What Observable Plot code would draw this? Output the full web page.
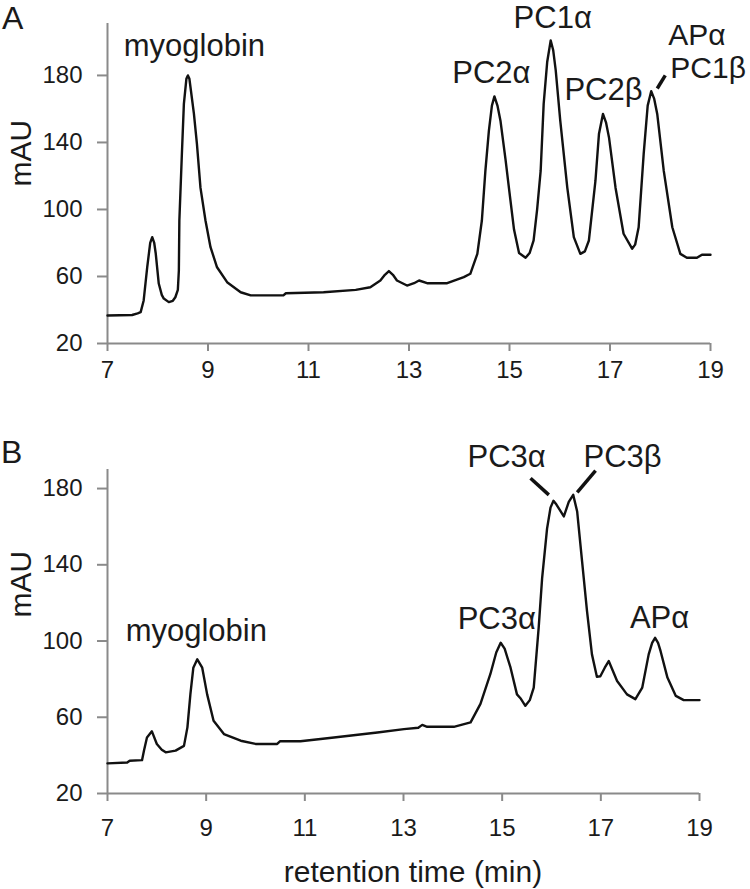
<!DOCTYPE html>
<html>
<head>
<meta charset="utf-8">
<script src="https://cdn.jsdelivr.net/npm/d3@7"></script>
<script src="https://cdn.jsdelivr.net/npm/@observablehq/plot@0.6"></script>
<style>
  html, body { margin: 0; padding: 0; background: #fff; }
  #wrap { position: relative; width: 750px; height: 889px; font-family: "Liberation Sans", Arial, sans-serif; color: #1a1a1a; }
  .panel-letter { position: absolute; font-size: 32px; line-height: 34px; }
  #xtitle { position: absolute; font-size: 30px; line-height: 30px; white-space: nowrap; transform: translateX(-50%); }
  svg { display: block; }
</style>
</head>
<body>
<div id="wrap">
  <div id="panelA"></div>
  <div id="panelB"></div>
  <div class="panel-letter" style="left:2px; top:1px;">A</div>
  <div class="panel-letter" style="left:1px; top:435px;">B</div>
  <div id="xtitle" style="left:413px; top:857px;">retention time (min)</div>
</div>
<script>
// ---------- data ----------
const xTicks = [7, 9, 11, 13, 15, 17, 19];
const yTicks = [20, 60, 100, 140, 180];

// Panel A chromatogram (retention time in min, absorbance in mAU)
const timeA = [7.00, 7.49, 7.60, 7.66, 7.72, 7.79, 7.85, 7.89, 7.93, 7.96, 8.02, 8.08, 8.12, 8.22, 8.30, 8.35, 8.40, 8.42, 8.43, 8.48, 8.52, 8.57, 8.60, 8.63, 8.66, 8.72, 8.78, 8.85, 8.95, 9.05, 9.18, 9.38, 9.65, 9.85, 10.50, 10.55, 11.30, 11.94, 12.23, 12.43, 12.52, 12.60, 12.68, 12.76, 12.96, 13.10, 13.20, 13.36, 13.76, 14.09, 14.22, 14.36, 14.45, 14.52, 14.59, 14.65, 14.70, 14.76, 14.82, 14.92, 15.00, 15.09, 15.19, 15.32, 15.40, 15.48, 15.55, 15.62, 15.68, 15.75, 15.82, 15.87, 15.92, 16.01, 16.15, 16.28, 16.41, 16.50, 16.58, 16.71, 16.78, 16.86, 16.92, 16.98, 17.11, 17.27, 17.44, 17.50, 17.57, 17.67, 17.75, 17.82, 17.88, 17.94, 18.07, 18.24, 18.40, 18.53, 18.73, 18.83, 19.00];
const signalA = [36.7, 37.0, 38.0, 38.7, 45.7, 65.5, 80.0, 83.5, 80.0, 73.7, 55.8, 49.0, 46.8, 44.7, 45.5, 47.6, 52.0, 63.6, 93.4, 133, 163, 178, 180, 178, 171, 157, 139, 113, 93.4, 77.5, 65.5, 56.6, 50.6, 48.7, 48.7, 50.0, 50.6, 52.0, 53.6, 57.6, 61.0, 63.2, 61.0, 57.6, 54.6, 56.0, 57.6, 56.0, 56.0, 59.6, 61.6, 73.5, 93.4, 123, 147, 162, 167.5, 162, 153, 130, 110, 88, 74, 71.2, 74, 81.5, 100, 123, 163, 188, 200.9, 195, 183, 153, 113, 83.5, 73.5, 75, 81.5, 117, 145, 157, 152, 143, 113, 85.5, 76.6, 79, 89.4, 133, 162, 170.6, 166, 157, 123, 89.4, 73.5, 71.2, 71.2, 73, 73];

// Panel B chromatogram
const timeB = [7.00, 7.40, 7.45, 7.70, 7.74, 7.80, 7.90, 8.00, 8.10, 8.18, 8.38, 8.55, 8.62, 8.68, 8.74, 8.82, 8.92, 9.02, 9.15, 9.36, 9.70, 10.00, 10.44, 10.50, 10.91, 11.32, 11.59, 12.47, 13.01, 13.30, 13.38, 13.48, 14.02, 14.36, 14.56, 14.76, 14.88, 14.97, 15.05, 15.17, 15.30, 15.37, 15.47, 15.56, 15.64, 15.74, 15.81, 15.91, 15.98, 16.04, 16.10, 16.25, 16.35, 16.44, 16.52, 16.62, 16.72, 16.82, 16.92, 16.99, 17.08, 17.16, 17.33, 17.53, 17.70, 17.84, 17.97, 18.04, 18.10, 18.16, 18.21, 18.35, 18.52, 18.68, 19.00];
const signalB = [35.8, 36.3, 37.2, 37.5, 42.5, 49.4, 52.6, 46.0, 43.0, 41.6, 42.5, 45.0, 54.7, 72.0, 86.0, 90.4, 86.0, 72.0, 58.2, 51.2, 47.7, 46.0, 46.0, 47.5, 47.4, 48.6, 49.4, 52.0, 53.8, 54.5, 56.0, 55.0, 55.0, 57.3, 67.0, 82.6, 94.0, 99.1, 96.0, 86.0, 72.0, 70.0, 66.0, 69.0, 75.6, 107, 133, 159, 170, 173.6, 171.6, 165.4, 173, 176.7, 168, 141.8, 115.7, 93.0, 81.2, 81.5, 86.0, 89.5, 79.0, 72.0, 69.5, 75.6, 93.0, 99.0, 101.7, 99.0, 94.8, 80.8, 71.2, 69.0, 69.0];

// Peak labels (name, time, mAU of text baseline, anchor)
const peakNamesA = ["myoglobin", "PC2\u03b1", "PC1\u03b1", "PC2\u03b2", "AP\u03b1", "PC1\u03b2"];
const peakTimeA = [8.73, 14.64, 15.86, 16.87, 18.16, 18.20];
const peakLevelA = [191.9, 175.2, 208.1, 165.1, 197.9, 178.2];
const peakAnchorA = ["middle", "middle", "middle", "middle", "start", "start"];
// Leader line (from peak to label)
const leaderA = { t1: [17.94], v1: [172.2], t2: [18.10], v2: [180.0] };

const peakNamesB = ["myoglobin", "PC3\u03b1", "PC3\u03b2", "PC3\u03b1", "AP\u03b1"];
const peakTimeB = [8.80, 15.09, 17.44, 14.89, 18.19];
const peakLevelB = [100.0, 191.5, 191.5, 106.3, 106.8];
const peakAnchorB = ["middle", "middle", "middle", "middle", "middle"];
const leaderB = { t1: [15.575, 16.893], v1: [185.4, 189.4], t2: [15.946, 16.521], v2: [176.7, 178.0] };

// ---------- drawing ----------
const axisGray = "#8a8a8a";
const textColor = "#1a1a1a";
const font = "'Liberation Sans', Arial, sans-serif";

function panel(opts) {
  const trace = opts.time.map((t, i) => ({ t, v: opts.signal[i] }));
  const labels = opts.names.map((name, i) => ({ name, t: opts.lt[i], v: opts.lv[i], a: opts.la[i] }));
  const leaders = opts.leader.t1.map((_, i) => ({ t1: opts.leader.t1[i], v1: opts.leader.v1[i], t2: opts.leader.t2[i], v2: opts.leader.v2[i] }));
  return Plot.plot({
    width: 750,
    height: opts.height,
    marginTop: opts.mt, marginBottom: opts.mb, marginLeft: 107, marginRight: opts.mr,
    style: { fontFamily: font, background: "white", overflow: "visible" },
    x: { domain: [7, 19] },
    y: { domain: opts.ydomain },
    marks: [
      Plot.axisX({ ticks: xTicks, tickSize: 8, tickPadding: opts.xpad, fontSize: 24, stroke: axisGray, strokeWidth: 2, fill: textColor, label: null, tickFormat: d => String(d) }),
      Plot.axisY({ ticks: yTicks, tickSize: 10, tickPadding: 15, fontSize: 24, stroke: axisGray, strokeWidth: 2, fill: textColor, label: null, tickFormat: d => String(d) }),
      Plot.ruleY([opts.ydomain[0]], { stroke: axisGray, strokeWidth: 2 }),
      Plot.ruleX([7], { stroke: axisGray, strokeWidth: 2 }),
      Plot.text(["mAU"], { frameAnchor: "left", dx: -77, dy: opts.mauDy, rotate: -90, fontSize: 30, lineAnchor: "bottom", fill: textColor, text: d => d }),
      Plot.line(trace, { x: "t", y: "v", stroke: "#111", strokeWidth: 2.4, curve: "linear" }),
      Plot.link(leaders, { x1: "t1", y1: "v1", x2: "t2", y2: "v2", stroke: "#111", strokeWidth: 3.5 }),
      Plot.text(labels.filter(d => d.a === "middle"), { x: "t", y: "v", text: "name", fontSize: 31, lineAnchor: "bottom", textAnchor: "middle", fill: textColor }),
      Plot.text(labels.filter(d => d.a === "start"), { x: "t", y: "v", text: "name", fontSize: 30, lineAnchor: "bottom", textAnchor: "start", fill: textColor })
    ]
  });
}

document.getElementById("panelA").append(panel({
  height: 400, mt: 23, mb: 57, mr: 40, ydomain: [20, 211], xpad: 9, mauDy: 3,
  time: timeA, signal: signalA,
  names: peakNamesA, lt: peakTimeA, lv: peakLevelA, la: peakAnchorA, leader: leaderA
}));

document.getElementById("panelB").append(panel({
  height: 489, mt: 69, mb: 96, mr: 51, ydomain: [20, 190], xpad: 17, mauDy: -14,
  time: timeB, signal: signalB,
  names: peakNamesB, lt: peakTimeB, lv: peakLevelB, la: peakAnchorB, leader: leaderB
}));
</script>
</body>
</html>
